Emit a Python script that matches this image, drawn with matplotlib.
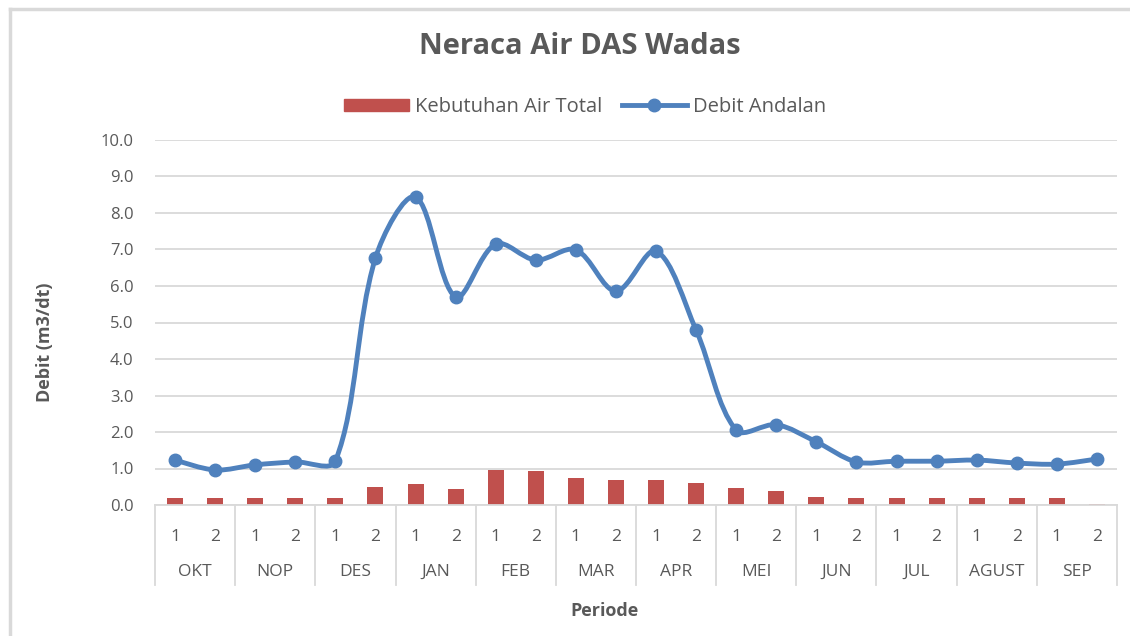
import numpy as np
import matplotlib.pyplot as plt
from matplotlib.path import Path
from matplotlib.patches import PathPatch, Patch
from matplotlib.lines import Line2D
import matplotlib.transforms as mtransforms

months = ["OKT", "NOP", "DES", "JAN", "FEB", "MAR", "APR", "MEI", "JUN", "JUL", "AGUST", "SEP"]
halves = ["1", "2"]
kebutuhan = [0.20, 0.20, 0.20, 0.20, 0.20, 0.49, 0.58, 0.43, 0.96, 0.93, 0.75, 0.68,
             0.68, 0.60, 0.46, 0.38, 0.22, 0.20, 0.20, 0.20, 0.20, 0.20, 0.20, 0.03]
debit = [1.23, 0.96, 1.10, 1.18, 1.20, 6.77, 8.44, 5.70, 7.15, 6.71, 6.99, 5.86,
         6.96, 4.79, 2.05, 2.20, 1.73, 1.18, 1.20, 1.20, 1.23, 1.15, 1.12, 1.26]

BLUE = "#4F81BD"
RED = "#C0504D"
TXT = "#595959"
GRID = "#D9D9D9"
font = ["Open Sans", "DejaVu Sans"]


def smooth_path(xs, ys, sx, sy):
    # bezier curve through the points, tangents weighted by segment length
    # (sx, sy = pixels per data unit, so the weighting is done on screen)
    pts = np.column_stack([xs, ys]).astype(float)
    scr = pts * [sx, sy]
    n = len(pts)
    seg = np.hypot(*np.diff(scr, axis=0).T)
    verts = [pts[0]]
    codes = [Path.MOVETO]
    for i in range(n - 1):
        i0 = max(i - 1, 0)
        i3 = min(i + 2, n - 1)
        d01 = seg[i - 1] if i > 0 else seg[i]
        d12 = seg[i]
        d23 = seg[i + 1] if i + 1 < n - 1 else seg[i]
        c1 = pts[i] + (pts[i + 1] - pts[i0]) * d12 / (d01 + d12) / 3.0
        c2 = pts[i + 1] - (pts[i3] - pts[i]) * d12 / (d12 + d23) / 3.0
        verts += [c1, c2, pts[i + 1]]
        codes += [Path.CURVE4] * 3
    return Path(verts, codes)


fig = plt.figure(figsize=(11.3, 6.36), dpi=100)
ax = fig.add_axes([155 / 1130, 1 - 505 / 636, (1117 - 155) / 1130, 365 / 636])

x = np.arange(len(debit))
ax.bar(x, kebutuhan, width=0.4, color=RED, zorder=2)
ax.add_patch(PathPatch(smooth_path(x, debit, 40.1, 36.5), fill=False, edgecolor=BLUE,
                       lw=3.5, capstyle="round", joinstyle="round", zorder=3))
ax.plot(x, debit, "o", color=BLUE, ms=9, zorder=4)

ax.set_xlim(-0.5, len(debit) - 0.5)
ax.set_ylim(0, 10)
ax.set_yticks(np.arange(0, 10.01, 1.0))
ax.set_yticklabels(["%.1f" % v for v in np.arange(0, 10.01, 1.0)],
                   fontsize=12, color=TXT, family=font)
ax.yaxis.grid(True, color=GRID, lw=1.3, zorder=0)
ax.set_axisbelow(True)
ax.tick_params(axis="y", length=0, pad=15.5)
for s in ["left", "right", "top"]:
    ax.spines[s].set_visible(False)
ax.spines["bottom"].set_color(GRID)
ax.spines["bottom"].set_linewidth(1.3)

ax.set_xticks(x)
ax.set_xticklabels(halves * len(months), fontsize=12.5, color=TXT, family=font)
ax.tick_params(axis="x", length=0, pad=17)

trans = mtransforms.blended_transform_factory(ax.transData, ax.transAxes)
for k in range(len(months) + 1):
    bx = 2 * k - 0.5
    ax.plot([bx, bx], [0, -0.219], color=GRID, lw=1.3, transform=trans, clip_on=False)
for k, m in enumerate(months):
    ax.text(2 * k + 0.5, -0.184, m, transform=trans, ha="center", va="center",
            fontsize=12.5, color=TXT, family=font)

fig.text(580 / 1130, 1 - 46 / 636, "Neraca Air DAS Wadas", ha="center", va="center",
         fontsize=21, fontweight="bold", color=TXT, family=font)
fig.text(604 / 1130, 1 - 611 / 636, "Periode", ha="center", va="center",
         fontsize=13, fontweight="bold", color=TXT, family=font)
fig.text(45 / 1130, 1 - 342 / 636, "Debit (m3/dt)", ha="center", va="center", rotation=90,
         fontsize=13, fontweight="bold", color=TXT, family=font)

handles = [Patch(facecolor=RED, edgecolor=RED),
           Line2D([], [], color=BLUE, lw=3.5, marker="o", ms=9)]
fig.legend(handles, ["Kebutuhan Air Total", "Debit Andalan"], loc="center",
           bbox_to_anchor=(585 / 1130, 1 - 107 / 636), ncol=2, frameon=False,
           prop={"family": font, "size": 14.5}, labelcolor=TXT,
           handlelength=3.2, handleheight=0.6, columnspacing=1.0, handletextpad=0.3)

# chart border
fig.add_artist(Line2D([10 / 1130, 10 / 1130], [0, 1 - 9 / 636], color=GRID, lw=2.5,
                      transform=fig.transFigure))
fig.add_artist(Line2D([10 / 1130, 1], [1 - 9 / 636, 1 - 9 / 636], color=GRID, lw=2.5,
                      transform=fig.transFigure))

fig.savefig("out.png", dpi=100)
